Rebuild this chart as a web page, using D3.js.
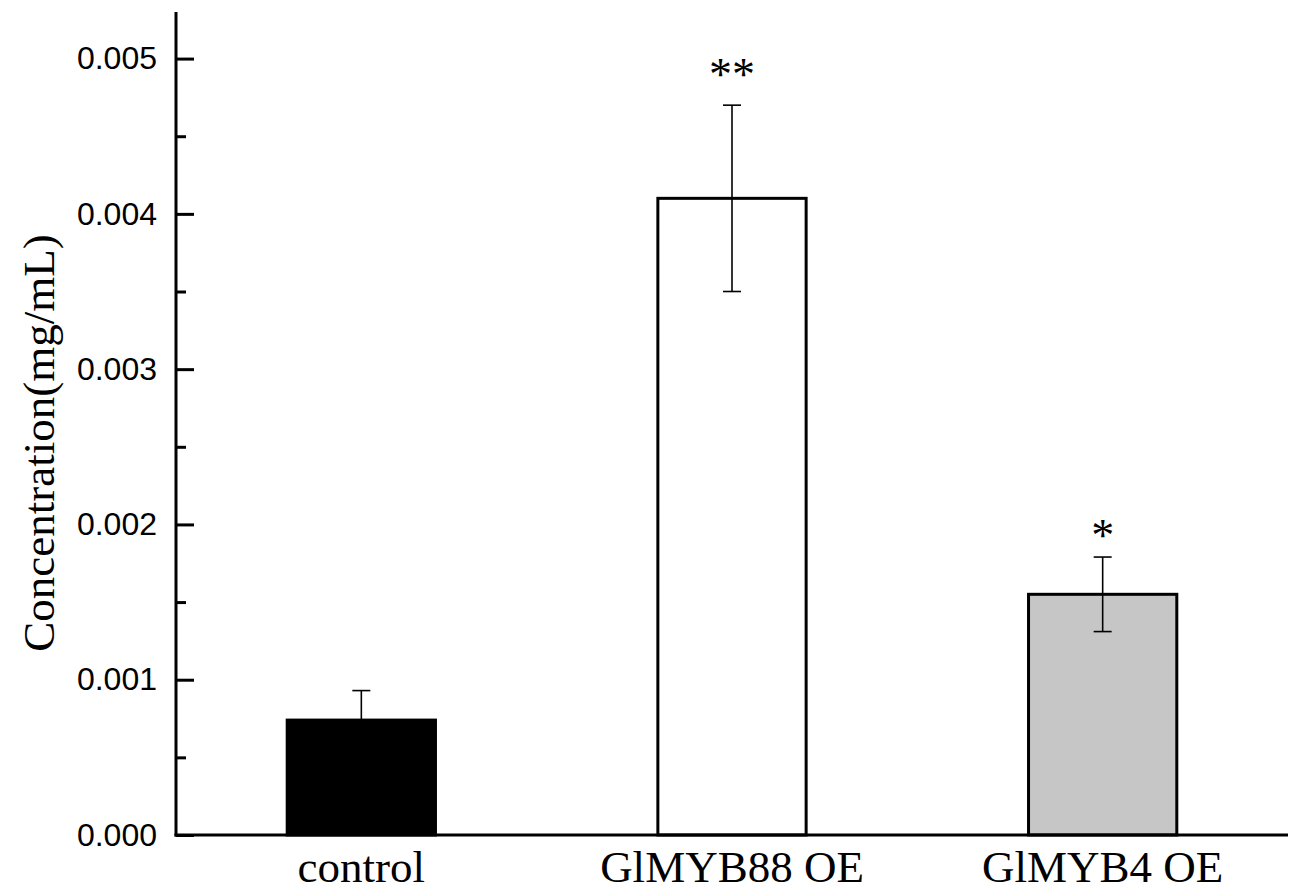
<!DOCTYPE html>
<html>
<head>
<meta charset="utf-8">
<script src="https://cdn.jsdelivr.net/npm/d3@7"></script>
<style>
html,body{margin:0;padding:0;background:#fff;}
svg{display:block;}
</style>
</head>
<body>
<svg id="chart" width="1293" height="892"></svg>
<script>
const categories = ["control", "GlMYB88 OE", "GlMYB4 OE"];
const means = [0.00074, 0.00410, 0.00155];
const errors = [0.00019, 0.00060, 0.00024];
const fills = ["#000000", "#ffffff", "#c6c6c6"];
const sigLabels = ["", "**", "*"];
const sigPositions = [null, 0.00493, 0.00196];
const yTicks = [0, 0.001, 0.002, 0.003, 0.004, 0.005];
const yMinorTicks = [0.0005, 0.0015, 0.0025, 0.0035, 0.0045];
const yTitle = "Concentration(mg/mL)";

(function () {
const svg = d3.select("#chart");
const mLeft = 176, mRight = 1288, mTop = 12, mBottom = 835;

const x = d3.scaleBand().domain(categories).range([mLeft, mRight]).paddingInner(0.6).paddingOuter(0.3);
const y = d3.scaleLinear().domain([0, 0.0053]).range([mBottom, mTop]);

const data = categories.map((c, i) => ({c, m: means[i], e: errors[i], f: fills[i], s: sigLabels[i], sp: sigPositions[i]}));

// bars
svg.selectAll("rect.bar").data(data).enter().append("rect")
  .attr("class", "bar")
  .attr("x", d => x(d.c))
  .attr("y", d => y(d.m))
  .attr("width", x.bandwidth())
  .attr("height", d => y(0) - y(d.m))
  .attr("fill", d => d.f)
  .attr("stroke", "#000")
  .attr("stroke-width", 3);

// error bars
const cap = 9;
const eb = svg.selectAll("g.err").data(data).enter().append("g").attr("class", "err")
  .attr("stroke", "#000").attr("stroke-width", 1.6);
eb.append("line")
  .attr("x1", d => x(d.c) + x.bandwidth()/2).attr("x2", d => x(d.c) + x.bandwidth()/2)
  .attr("y1", d => y(d.m - d.e)).attr("y2", d => y(d.m + d.e));
eb.append("line")
  .attr("x1", d => x(d.c) + x.bandwidth()/2 - cap).attr("x2", d => x(d.c) + x.bandwidth()/2 + cap)
  .attr("y1", d => y(d.m + d.e)).attr("y2", d => y(d.m + d.e));
eb.append("line")
  .attr("x1", d => x(d.c) + x.bandwidth()/2 - cap).attr("x2", d => x(d.c) + x.bandwidth()/2 + cap)
  .attr("y1", d => y(d.m - d.e)).attr("y2", d => y(d.m - d.e));

// significance labels
svg.selectAll("text.sig").data(data.filter(d => d.s)).enter().append("text")
  .attr("class", "sig")
  .attr("x", d => x(d.c) + x.bandwidth()/2)
  .attr("y", d => y(d.sp))
  .attr("dy", "0.45em")
  .attr("text-anchor", "middle")
  .attr("font-family", "Liberation Serif, Times New Roman, serif")
  .attr("font-size", 46)
  .attr("fill", "#000")
  .text(d => d.s);

// y axis
const yAxis = d3.axisRight(y).tickValues(yTicks).tickSize(18).tickFormat(d3.format(".3f"));
const gy = svg.append("g").attr("transform", `translate(${mLeft},0)`).call(yAxis);
gy.select(".domain").remove();
gy.selectAll(".tick line").attr("stroke", "#000").attr("stroke-width", 3);
gy.selectAll(".tick text")
  .attr("x", -19).attr("text-anchor", "end")
  .attr("font-family", "Liberation Sans, Arial, sans-serif")
  .attr("font-size", 32).attr("fill", "#000");

const yAxisMinor = d3.axisRight(y).tickValues(yMinorTicks).tickSize(10).tickFormat("");
const gym = svg.append("g").attr("transform", `translate(${mLeft},0)`).call(yAxisMinor);
gym.select(".domain").remove();
gym.selectAll(".tick line").attr("stroke", "#000").attr("stroke-width", 3);

// axis lines
svg.append("line").attr("x1", mLeft).attr("x2", mLeft).attr("y1", mTop).attr("y2", mBottom + 1.5)
  .attr("stroke", "#000").attr("stroke-width", 3);
svg.append("line").attr("x1", mLeft - 1.5).attr("x2", mRight).attr("y1", mBottom).attr("y2", mBottom)
  .attr("stroke", "#000").attr("stroke-width", 3);

// x labels
const xAxis = d3.axisBottom(x).tickSize(0).tickPadding(0);
const gx = svg.append("g").attr("transform", `translate(0,${mBottom})`).call(xAxis);
gx.select(".domain").remove();
gx.selectAll(".tick text")
  .attr("y", 47).attr("dy", 0)
  .attr("font-family", "Liberation Serif, Times New Roman, serif")
  .attr("font-size", 45).attr("fill", "#000");

// y title
svg.append("text")
  .attr("transform", `translate(54,443) rotate(-90)`)
  .attr("text-anchor", "middle")
  .attr("font-family", "Liberation Serif, Times New Roman, serif")
  .attr("font-size", 45).attr("fill", "#000")
  .text(yTitle);
})();
</script>
</body>
</html>
